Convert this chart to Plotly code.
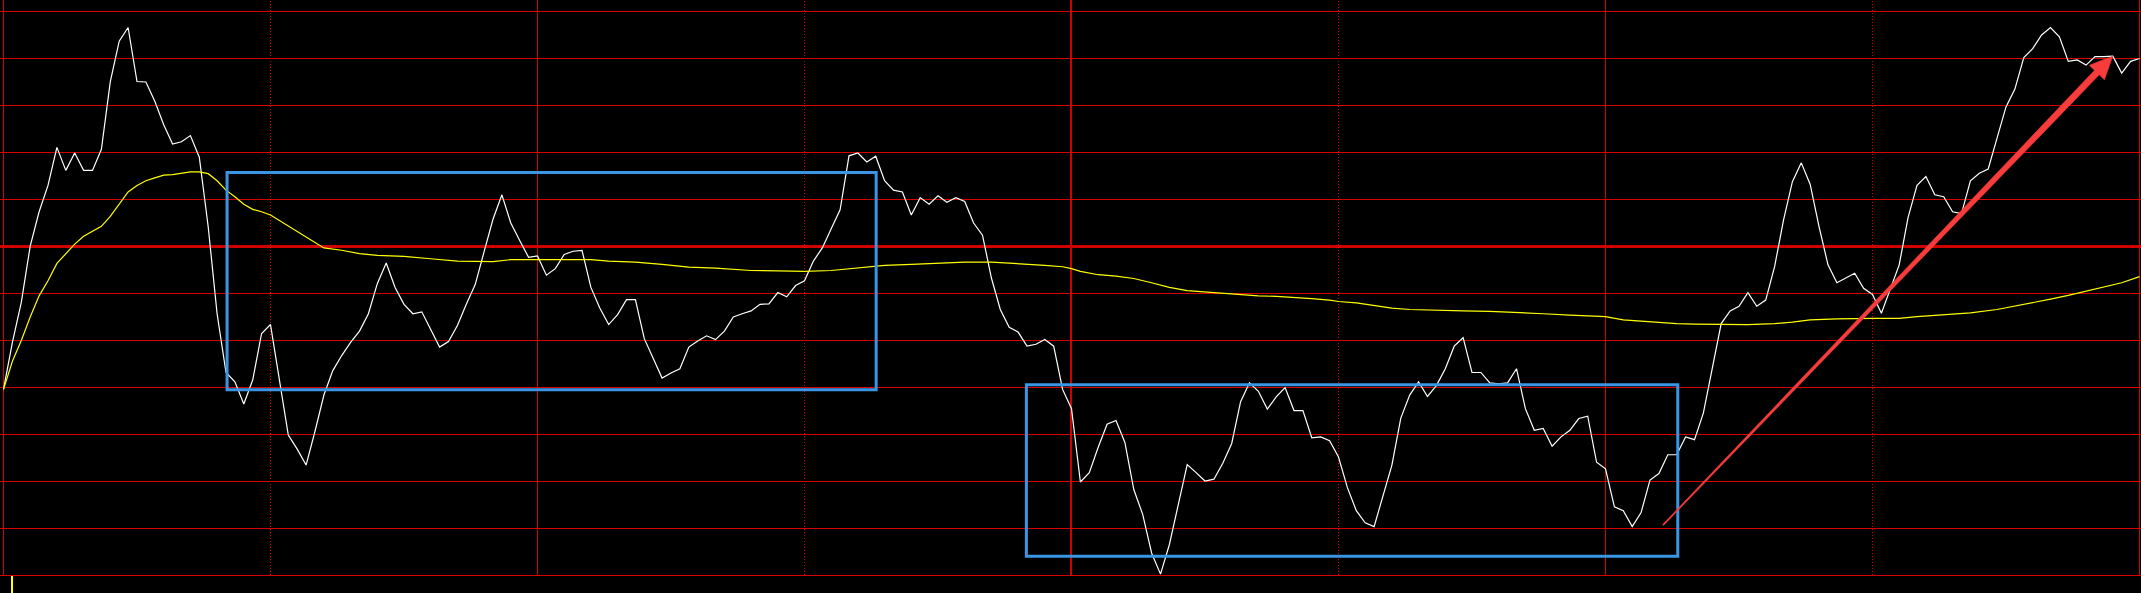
import plotly.graph_objects as go

# ---- data (minute index 0..240, values in grid units relative to previous close) ----
price = [
    -3.03, -2.03, -1.18, 0.02, 0.75, 1.31, 2.12, 1.63, 2.00, 1.63,
    1.63, 2.08, 3.52, 4.38, 4.67, 3.52, 3.51, 3.10, 2.60, 2.19,
    2.24, 2.37, 1.91, 0.43, -1.42, -2.67, -2.87, -3.34, -2.83, -1.84,
    -1.65, -2.87, -4.00, -4.30, -4.64, -3.92, -3.15, -2.63, -2.31, -2.03,
    -1.79, -1.42, -0.78, -0.34, -0.86, -1.22, -1.42, -1.38, -1.75, -2.13,
    -2.01, -1.67, -1.22, -0.80, -0.10, 0.59, 1.11, 0.51, 0.14, -0.22,
    -0.19, -0.60, -0.46, -0.16, -0.09, -0.07, -0.86, -1.30, -1.65, -1.44,
    -1.12, -1.12, -1.95, -2.39, -2.79, -2.68, -2.59, -2.13, -2.00, -1.89,
    -1.97, -1.79, -1.49, -1.42, -1.36, -1.22, -1.21, -0.97, -1.06, -0.82,
    -0.72, -0.30, -0.02, 0.39, 0.79, 1.94, 2.00, 1.81, 1.93, 1.41,
    1.21, 1.17, 0.68, 1.05, 0.91, 1.09, 0.95, 1.05, 0.97, 0.51,
    0.25, -0.66, -1.33, -1.71, -1.81, -2.11, -2.07, -1.97, -2.11, -3.03,
    -3.44, -5.00, -4.80, -4.26, -3.77, -3.69, -4.16, -5.16, -5.69, -6.51,
    -6.96, -6.33, -5.45, -4.63, -4.80, -4.98, -4.94, -4.60, -4.18, -3.29,
    -2.89, -3.07, -3.45, -3.19, -2.99, -3.48, -3.48, -4.06, -4.04, -4.12,
    -4.47, -5.12, -5.61, -5.87, -5.95, -5.29, -4.64, -3.64, -3.15, -2.87,
    -3.18, -2.95, -2.59, -2.11, -1.93, -2.67, -2.67, -2.89, -2.91, -2.89,
    -2.59, -3.44, -3.90, -3.86, -4.24, -4.04, -3.90, -3.65, -3.60, -4.58,
    -4.72, -5.53, -5.61, -5.95, -5.65, -4.96, -4.82, -4.42, -4.42, -4.04,
    -4.10, -3.53, -2.59, -1.63, -1.36, -1.26, -0.97, -1.26, -1.13, -0.42,
    0.57, 1.39, 1.79, 1.33, 0.43, -0.38, -0.76, -0.66, -0.56, -0.88,
    -1.01, -1.41, -0.88, -0.38, 0.63, 1.31, 1.50, 1.11, 1.07, 0.75,
    0.71, 1.41, 1.57, 1.66, 2.32, 2.98, 3.36, 4.03, 4.22, 4.51,
    4.67, 4.47, 3.95, 3.98, 3.87, 4.05, 4.05, 4.06, 3.70, 3.95, 4.01,
]
minutes = list(range(len(price)))

avg_minutes = [
    0, 1, 2, 3, 4, 5, 6, 7, 8, 9, 10, 11, 12, 13, 14, 15, 16, 17, 18, 19, 20,
    21, 22, 23, 24, 25, 26, 27, 28, 29, 30, 32, 34, 36, 38, 40, 42, 45, 48, 51,
    55, 57, 60, 66, 68, 71, 74, 77, 80, 84, 87, 90, 93, 95, 97, 99, 102, 105,
    108, 111, 113, 115, 117, 119, 120, 121, 123, 125, 127, 129, 131, 133, 135,
    137, 139, 141, 143, 145, 147, 149, 150, 152, 154, 156, 158, 161, 164, 167,
    170, 173, 176, 178, 180, 182, 184, 186, 188, 190, 193, 196, 199, 201, 203,
    206, 210, 213, 215, 218, 221, 224, 226, 228, 230, 232, 234, 236, 238, 240,
]
avg_values = [
    -3.03, -2.43, -1.99, -1.49, -1.04, -0.72, -0.35, -0.15, 0.06, 0.23, 0.33,
    0.44, 0.65, 0.91, 1.17, 1.31, 1.41, 1.47, 1.53, 1.54, 1.57, 1.60, 1.60,
    1.56, 1.41, 1.21, 1.07, 0.91, 0.80, 0.75, 0.68, 0.45, 0.21, -0.02, -0.07,
    -0.14, -0.18, -0.20, -0.25, -0.30, -0.31, -0.27, -0.27, -0.27, -0.30,
    -0.32, -0.37, -0.43, -0.45, -0.50, -0.51, -0.52, -0.50, -0.46, -0.42,
    -0.39, -0.37, -0.34, -0.32, -0.32, -0.34, -0.37, -0.39, -0.42, -0.46,
    -0.52, -0.59, -0.62, -0.67, -0.76, -0.86, -0.93, -0.96, -0.99, -1.01,
    -1.04, -1.05, -1.07, -1.10, -1.13, -1.16, -1.19, -1.25, -1.30, -1.33,
    -1.35, -1.36, -1.37, -1.39, -1.42, -1.45, -1.46, -1.48, -1.55, -1.58,
    -1.61, -1.63, -1.64, -1.65, -1.65, -1.63, -1.60, -1.55, -1.53, -1.52,
    -1.52, -1.48, -1.44, -1.40, -1.33, -1.26, -1.18, -1.11, -1.03, -0.94,
    -0.85, -0.76, -0.63,
]

# first-minute volume bar (only the top of it is visible in the crop)
vol_minutes = [1]
vol_values = [1.0]

# annotation boxes (minute range, value range)
boxes = [
    (25.12, 98.05, -3.04, 1.585),
    (114.93, 188.12, -6.58, -2.93),
]
arrow_start = (186.47, -5.915)
arrow_tip = (237.0, 4.064)

# ---- layout geometry ----
W, H = 2141, 593
PX_PER_MIN = 8.9
XR = [-3.5 / PX_PER_MIN, -3.5 / PX_PER_MIN + W / PX_PER_MIN]
YR = [-7.362, 5.255]
GRID = "#D80000"
ppx = W / (XR[1] - XR[0])
ppy = H / (YR[1] - YR[0])


def to_px(x, y):
    return ((x - XR[0]) * ppx, (YR[1] - y) * ppy)


def to_data(px, py):
    return (px / ppx + XR[0], YR[1] - py / ppy)


fig = go.Figure()

fig.add_trace(go.Scatter(x=minutes, y=price, mode="lines",
                         line=dict(color="#FFFFFF", width=1.2), hoverinfo="skip"))
fig.add_trace(go.Scatter(x=avg_minutes, y=avg_values, mode="lines",
                         line=dict(color="#FFFF00", width=1.2), hoverinfo="skip"))
fig.add_trace(go.Bar(x=vol_minutes, y=vol_values, width=0.12, yaxis="y2",
                     marker=dict(color="#FFFF00", line=dict(width=0)), hoverinfo="skip"))

shapes = []
# vertical grid lines
for m in [0, 60, 180, 240]:
    shapes.append(dict(type="line", xref="x", yref="paper", x0=m, x1=m, y0=0, y1=1,
                       line=dict(color=GRID, width=1), layer="below"))
for m in [30, 90, 150, 210]:
    shapes.append(dict(type="line", xref="x", yref="paper", x0=m, x1=m, y0=0, y1=1,
                       line=dict(color=GRID, width=1, dash="1px,2px"), layer="below"))
shapes.append(dict(type="line", xref="x", yref="paper", x0=120 - 0.5 / PX_PER_MIN,
                   x1=120 - 0.5 / PX_PER_MIN, y0=0, y1=1,
                   line=dict(color="#D00000", width=2), layer="below"))

# blue boxes
for (xa, xb, ya, yb) in boxes:
    shapes.append(dict(type="rect", xref="x", yref="y", x0=xa, x1=xb, y0=ya, y1=yb,
                       line=dict(color="#3A96E4", width=3), fillcolor="rgba(0,0,0,0)"))

# tapered red arrow
sx, sy = to_px(*arrow_start)
tx, ty = to_px(*arrow_tip)
dx, dy = tx - sx, ty - sy
L = (dx * dx + dy * dy) ** 0.5
ux, uy = dx / L, dy / L
nx, ny = -uy, ux
head_len, head_half = 23.0, 10.5
w0, w1 = 0.6, 3.3
bx, by = tx - head_len * ux, ty - head_len * uy
pts_px = [
    (sx + nx * w0, sy + ny * w0),
    (bx + nx * w1, by + ny * w1),
    (bx + nx * head_half, by + ny * head_half),
    (tx, ty),
    (bx - nx * head_half, by - ny * head_half),
    (bx - nx * w1, by - ny * w1),
    (sx - nx * w0, sy - ny * w0),
]
pts = [to_data(px, py) for px, py in pts_px]
path = "M " + " L ".join(f"{x:.4f},{y:.4f}" for x, y in pts) + " Z"
shapes.append(dict(type="path", xref="x", yref="y", path=path,
                   fillcolor="#F83C3C", line=dict(color="#F83C3C", width=0.5)))

fig.update_layout(
    width=W, height=H,
    margin=dict(l=0, r=0, t=0, b=0, pad=0),
    paper_bgcolor="#000000", plot_bgcolor="#000000",
    showlegend=False,
    xaxis=dict(range=XR, showgrid=False, zeroline=False, showticklabels=False,
               ticks="", showline=False, fixedrange=True),
    yaxis=dict(range=YR, showgrid=True, gridcolor=GRID, gridwidth=1, tick0=0, dtick=1,
               zeroline=True, zerolinecolor="#D00000", zerolinewidth=3,
               showticklabels=False, ticks="", showline=False, fixedrange=True),
    yaxis2=dict(domain=[0, 17 / 593], range=[0, 1], visible=False, fixedrange=True),
    shapes=shapes,
)

fig.write_html(
    "out.html",
    config={"displayModeBar": False},
    post_script="document.body.style.margin='0';document.body.style.padding='0';"
                "document.body.style.background='#000';"
                "document.documentElement.style.background='#000';"
                "document.body.style.overflow='hidden';",
)
